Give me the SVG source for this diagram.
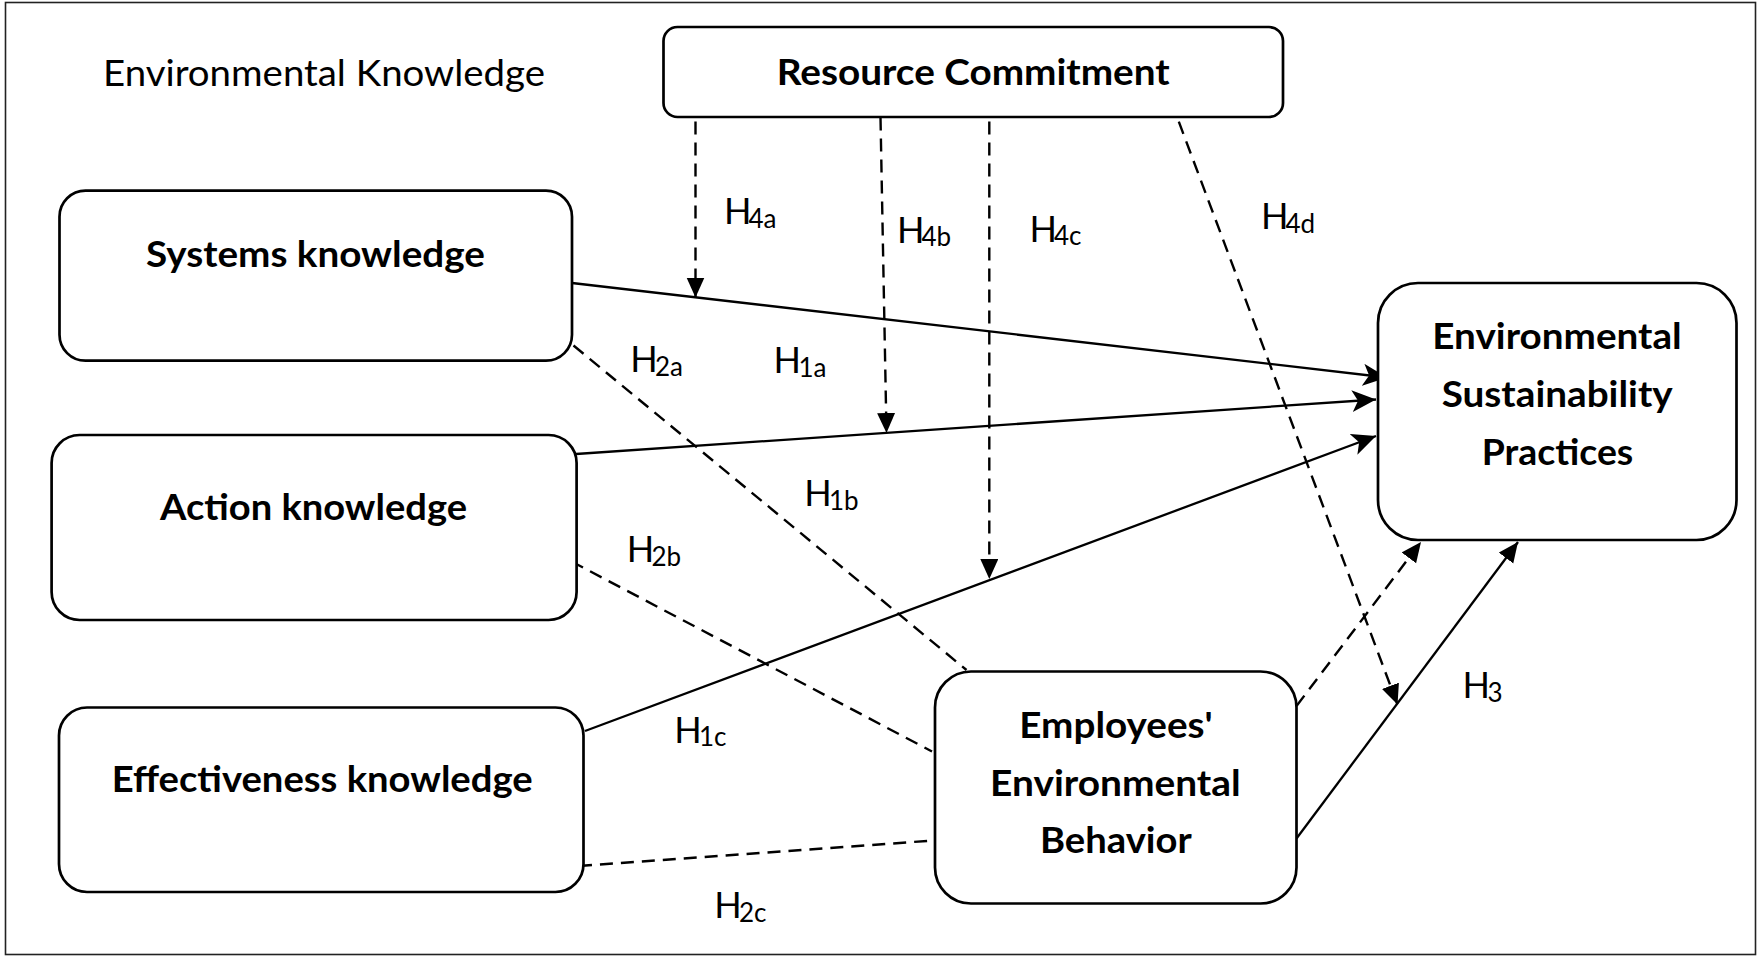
<svg xmlns="http://www.w3.org/2000/svg" width="1759" height="957" viewBox="0 0 1759 957">
<style>
.box{fill:#fff;stroke:#000;stroke-width:2.7}
.t{font-family:Lato,"Liberation Sans",sans-serif;fill:#000}
.b{font-weight:bold;font-size:36px}
.r{font-size:36px}
.sub{font-size:26px}
.sol{fill:none;stroke:#000;stroke-width:2.3}
.dash{fill:none;stroke:#000;stroke-width:2.4;stroke-dasharray:13 8}
</style>
<defs>
<marker id="notch" markerUnits="userSpaceOnUse" markerWidth="26" markerHeight="24" refX="24" refY="11" orient="auto"><path d="M0,0 L24,11 L0,22 L6,11 Z" fill="#000"/></marker>
<marker id="tri" markerUnits="userSpaceOnUse" markerWidth="22" markerHeight="20" refX="20" refY="9" orient="auto"><path d="M0,0 L20,9 L0,18 Z" fill="#000"/></marker>
</defs>
<rect x="5.5" y="2.5" width="1750" height="952" fill="#fff" stroke="#222" stroke-width="1.6"/>
<text class="t r" x="103" y="86" textLength="442" lengthAdjust="spacingAndGlyphs">Environmental Knowledge</text>
<g id="connectors">
<line class="sol" x1="572" y1="283" x2="1387" y2="377.5" marker-end="url(#notch)"/>
<line class="sol" x1="576" y1="454" x2="1376" y2="399.5" marker-end="url(#notch)"/>
<line class="sol" x1="585" y1="731" x2="1376" y2="436" marker-end="url(#notch)"/>
<line class="sol" x1="1296.5" y1="838.5" x2="1518" y2="542" marker-end="url(#tri)"/>
<line class="dash" x1="1296.5" y1="706" x2="1421" y2="542" marker-end="url(#tri)"/>
<line class="dash" x1="573.5" y1="345.5" x2="966.5" y2="670"/>
<line class="dash" x1="571.5" y1="561.5" x2="932" y2="751.5"/>
<line class="dash" x1="579" y1="866" x2="934" y2="840.5"/>
<line class="dash" x1="695.5" y1="121.5" x2="695.5" y2="297.5" marker-end="url(#tri)"/>
<line class="dash" x1="880.5" y1="117.5" x2="886.5" y2="433" marker-end="url(#tri)"/>
<line class="dash" x1="989.3" y1="121.5" x2="989.3" y2="579" marker-end="url(#tri)"/>
<line class="dash" x1="1178.8" y1="121.7" x2="1397.5" y2="704.5" marker-end="url(#tri)"/>
</g>
<g id="labels">
<text class="t r" x="724" y="224.3">H<tspan class="sub" x="748.5" y="228">4a</tspan></text>
<text class="t r" x="897" y="242.7">H<tspan class="sub" x="921.5" y="246">4b</tspan></text>
<text class="t r" x="1029.5" y="241.5">H<tspan class="sub" x="1054" y="245">4c</tspan></text>
<text class="t r" x="1261" y="229.3">H<tspan class="sub" x="1285.5" y="232.7">4d</tspan></text>
<text class="t r" x="630.2" y="372.3">H<tspan class="sub" x="655" y="375.7">2a</tspan></text>
<text class="t r" x="773.5" y="373.3">H<tspan class="sub" x="798.5" y="376.7">1a</tspan></text>
<text class="t r" x="804.2" y="506">H<tspan class="sub" x="829" y="509.5">1b</tspan></text>
<text class="t r" x="626.8" y="562.3">H<tspan class="sub" x="651.5" y="565.7">2b</tspan></text>
<text class="t r" x="674.2" y="742.7">H<tspan class="sub" x="699" y="746">1c</tspan></text>
<text class="t r" x="714.2" y="918.3">H<tspan class="sub" x="739" y="921.7">2c</tspan></text>
<text class="t r" x="1462.5" y="698">H<tspan class="sub" x="1487.5" y="701.5">3</tspan></text>
</g>
<g id="resource">
<rect class="box" x="663.5" y="27" width="619.5" height="90" rx="14"/>
<text class="t b" x="776.7" y="84.5" textLength="393" lengthAdjust="spacingAndGlyphs">Resource Commitment</text>
</g>
<g id="systems">
<rect class="box" x="59.5" y="190.7" width="512.5" height="170" rx="26"/>
<text class="t b" x="146" y="267" textLength="339" lengthAdjust="spacingAndGlyphs">Systems knowledge</text>
</g>
<g id="action">
<rect class="box" x="51.6" y="435" width="525" height="185" rx="28"/>
<text class="t b" x="160" y="520" textLength="307" lengthAdjust="spacingAndGlyphs">Action knowledge</text>
</g>
<g id="effectiveness">
<rect class="box" x="59" y="707.5" width="524.5" height="184.5" rx="28"/>
<text class="t b" x="111.7" y="791.5" textLength="421" lengthAdjust="spacingAndGlyphs">Effectiveness knowledge</text>
</g>
<g id="employees">
<rect class="box" x="935" y="671.5" width="361.5" height="232" rx="36"/>
<text class="t b" x="1019.3" y="737.7" textLength="193.4" lengthAdjust="spacingAndGlyphs">Employees'</text>
<text class="t b" x="990" y="796" textLength="250.7" lengthAdjust="spacingAndGlyphs">Environmental</text>
<text class="t b" x="1040" y="853.3" textLength="151.7" lengthAdjust="spacingAndGlyphs">Behavior</text>
</g>
<g id="esp">
<rect class="box" x="1378" y="283" width="358.5" height="257" rx="40"/>
<text class="t b" x="1432.3" y="349.3" textLength="249.4" lengthAdjust="spacingAndGlyphs">Environmental</text>
<text class="t b" x="1441.7" y="407" textLength="231" lengthAdjust="spacingAndGlyphs">Sustainability</text>
<text class="t b" x="1481.7" y="465" textLength="151.6" lengthAdjust="spacingAndGlyphs">Practices</text>
</g>
</svg>
